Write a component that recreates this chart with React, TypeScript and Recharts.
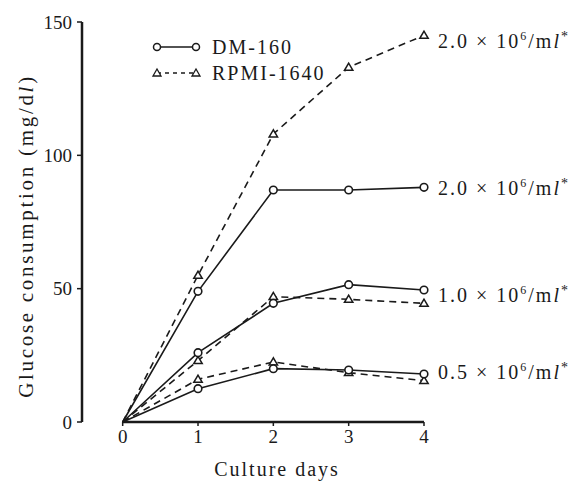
import React from "react";
import { LineChart, Line, XAxis, YAxis, ReferenceLine, LabelList, Label } from "recharts";

const days = [0, 1, 2, 3, 4];
const dm20 = [0, 49, 87, 87, 88];
const rpmi20 = [0, 55, 108, 133, 145];
const dm10 = [0, 26, 44.5, 51.5, 49.5];
const rpmi10 = [0, 23, 47, 46, 44.5];
const dm05 = [0, 12.5, 20, 19.5, 18];
const rpmi05 = [0, 16, 22.5, 18.5, 15.5];
const yTicks = [0, 50, 100, 150];

const data = days.map((d, i) => ({
  day: d,
  dm20: dm20[i],
  rpmi20: rpmi20[i],
  dm10: dm10[i],
  rpmi10: rpmi10[i],
  dm05: dm05[i],
  rpmi05: rpmi05[i],
}));

const INK = "#1a1a1a";
const FONT = "'Liberation Serif', 'DejaVu Serif', serif";

const Circle = (p: any) =>
  p.index === 0 ? null : (
    <circle key={p.key} cx={p.cx} cy={p.cy} r={3.8} fill="#fff" stroke={INK} strokeWidth={1.6} />
  );

const Tri = (p: any) => {
  if (p.index === 0) return null;
  const s = 4.2;
  return (
    <polygon
      key={p.key}
      points={`${p.cx},${p.cy - s} ${p.cx - s},${p.cy + s * 0.7} ${p.cx + s},${p.cy + s * 0.7}`}
      fill="#fff"
      stroke={INK}
      strokeWidth={1.5}
    />
  );
};

const endLabel = (conc: string, dy: number) => (p: any) => {
  if (p.index !== 4) return null;
  return (
    <text x={p.x + 14} y={p.y + dy} fill={INK} fontFamily={FONT} fontSize={20} letterSpacing={2}>
      <tspan>{conc} × 10</tspan>
      <tspan dy={-8} fontSize={12}>6</tspan>
      <tspan dy={8}>/m</tspan>
      <tspan fontStyle="italic">l</tspan>
      <tspan dy={-7} fontSize={14}>*</tspan>
    </text>
  );
};

function LegendBox() {
  return (
    <svg width={200} height={60} style={{ position: "absolute", left: 152, top: 35, overflow: "visible" }}>
      <line x1={5} y1={12} x2={44} y2={12} stroke={INK} strokeWidth={1.5} />
      <circle cx={5} cy={12} r={3.5} fill="#fff" stroke={INK} strokeWidth={1.5} />
      <circle cx={44} cy={12} r={3.5} fill="#fff" stroke={INK} strokeWidth={1.5} />
      <text x={60} y={19} fill={INK} fontFamily={FONT} fontSize={20} letterSpacing={2}>DM-160</text>
      <line x1={5} y1={38} x2={44} y2={38} stroke={INK} strokeWidth={1.5} strokeDasharray="4 4" />
      <polygon points="5,34 1,41 9,41" fill="#fff" stroke={INK} strokeWidth={1.3} />
      <polygon points="44,34 40,41 48,41" fill="#fff" stroke={INK} strokeWidth={1.3} />
      <text x={60} y={45} fill={INK} fontFamily={FONT} fontSize={20} letterSpacing={2}>RPMI-1640</text>
    </svg>
  );
}

export default function App() {
  return (
    <div style={{ position: "absolute", left: 0, top: 0, width: 574, height: 483, background: "#fff" }}>
      <LineChart width={574} height={483} data={data} margin={{ top: 22, right: 150, bottom: 31, left: 42 }}>
        <XAxis
          dataKey="day"
          type="number"
          domain={[-0.54, 4]}
          ticks={days}
          axisLine={false}
          tickLine={{ stroke: INK, strokeWidth: 1.5 }}
          tickSize={4}
          height={30}
          tick={{ fill: INK, fontFamily: FONT, fontSize: 19 }}
          tickMargin={4}
        >
          <Label value="Culture days" position="insideBottom" offset={-24} dx={24} fill={INK} fontFamily={FONT} fontSize={20} letterSpacing={2} />
        </XAxis>
        <YAxis
          domain={[0, 150]}
          ticks={yTicks}
          width={40}
          axisLine={{ stroke: INK, strokeWidth: 2.5 }}
          tickLine={{ stroke: INK, strokeWidth: 1.5 }}
          tickSize={5}
          tickMargin={5}
          tick={{ fill: INK, fontFamily: FONT, fontSize: 19 }}
        >
          <Label
            content={() => (
              <text
                x={26}
                y={236}
                transform="rotate(-90 26 236)"
                textAnchor="middle"
                dominantBaseline="central"
                fill={INK}
                fontFamily={FONT}
                fontSize={21}
                letterSpacing={2.7}
              >
                Glucose consumption (mg/d<tspan fontStyle="italic">l</tspan>)
              </text>
            )}
          />
        </YAxis>
        <ReferenceLine
          segment={[{ x: 0, y: 0 }, { x: 4, y: 0 }]}
          stroke={INK}
          strokeWidth={2.5}
          ifOverflow="visible"
        />
        <Line dataKey="rpmi20" stroke={INK} strokeWidth={1.6} strokeDasharray="7 5" dot={Tri} isAnimationActive={false}>
          <LabelList content={endLabel("2.0", 13)} />
        </Line>
        <Line dataKey="dm20" stroke={INK} strokeWidth={1.6} dot={Circle} isAnimationActive={false}>
          <LabelList content={endLabel("2.0", 8)} />
        </Line>
        <Line dataKey="rpmi10" stroke={INK} strokeWidth={1.6} strokeDasharray="7 5" dot={Tri} isAnimationActive={false} />
        <Line dataKey="dm10" stroke={INK} strokeWidth={1.6} dot={Circle} isAnimationActive={false}>
          <LabelList content={endLabel("1.0", 12)} />
        </Line>
        <Line dataKey="rpmi05" stroke={INK} strokeWidth={1.6} strokeDasharray="7 5" dot={Tri} isAnimationActive={false} />
        <Line dataKey="dm05" stroke={INK} strokeWidth={1.6} dot={Circle} isAnimationActive={false}>
          <LabelList content={endLabel("0.5", 5)} />
        </Line>
      </LineChart>
      <LegendBox />
    </div>
  );
}
